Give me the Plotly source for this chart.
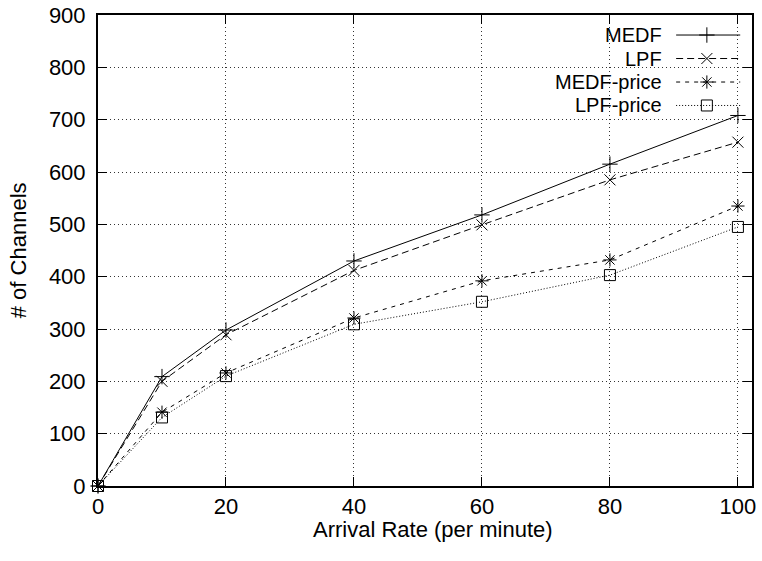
import plotly.graph_objects as go

# Arrival rate (per minute) and channel counts for each scheduling policy
arrival_rate = [0, 10, 20, 40, 60, 80, 100]
medf = [0, 209, 298, 430, 518, 615, 708]
lpf = [0, 200, 289, 412, 499, 585, 657]
medf_price = [0, 141, 216, 321, 392, 432, 535]
lpf_price = [0, 131, 210, 309, 352, 403, 495]

x_ticks = [0, 20, 40, 60, 80, 100]
y_ticks = list(range(0, 1000, 100))

FONT = "Liberation Sans, Arial, Helvetica, sans-serif"
FS = 22
KEY_FS = 20
MS = 11

series = [
    ("MEDF", medf, "solid", "cross-thin"),
    ("LPF", lpf, "7px,4px", "x-thin"),
    ("MEDF-price", medf_price, "4px,5px", "asterisk-open"),
    ("LPF-price", lpf_price, "1px,2px", "square-open"),
]

fig = go.Figure()
for name, ys, dash, sym in series:
    fig.add_trace(go.Scatter(
        x=arrival_rate, y=ys, name=name, mode="lines+markers",
        line=dict(color="black", width=1, dash=dash),
        marker=dict(symbol=sym, size=MS, color="black",
                    line=dict(color="black", width=1)),
        showlegend=False, cliponaxis=False,
    ))

# Key drawn in the upper-right corner: label, sample line, sample marker
key_rows = [0.9575, 0.9076, 0.8577, 0.8079]
line_x0, line_x1, mark_x, text_x = 0.884, 0.982, 0.931, 0.864
for (name, _, dash, sym), ky in zip(series, key_rows):
    fig.add_shape(type="line", xref="paper", yref="paper",
                  x0=line_x0, x1=line_x1, y0=ky, y1=ky,
                  line=dict(color="black", width=1, dash=dash))
    fig.add_trace(go.Scatter(
        x=[mark_x], y=[ky], xaxis="x2", yaxis="y2", mode="markers",
        marker=dict(symbol=sym, size=MS, color="black",
                    line=dict(color="black", width=1)),
        showlegend=False, hoverinfo="skip",
    ))
    fig.add_annotation(x=text_x, y=ky, xref="paper", yref="paper",
                       text=name, showarrow=False, xanchor="right",
                       yanchor="middle", borderpad=0,
                       font=dict(family=FONT, size=KEY_FS, color="black"))

# Axis titles
fig.add_annotation(x=0.512, y=-0.093, xref="paper", yref="paper",
                   text="Arrival Rate (per minute)", showarrow=False,
                   xanchor="center", yanchor="middle",
                   font=dict(family=FONT, size=FS, color="black"))
fig.add_annotation(x=-0.122, y=0.501, xref="paper", yref="paper",
                   text="# of Channels", showarrow=False, textangle=-90,
                   xanchor="center", yanchor="middle",
                   font=dict(family=FONT, size=FS, color="black"))

axis_common = dict(
    showline=True, linecolor="black", linewidth=2, mirror="ticks",
    ticks="inside", ticklen=9, tickwidth=1, tickcolor="black",
    showgrid=True, gridcolor="#333333", gridwidth=1, griddash="1px,3px",
    zeroline=False, automargin=False,
    tickfont=dict(family=FONT, size=FS, color="black"),
)

fig.update_layout(
    width=762, height=561,
    margin=dict(l=98, r=10, t=15, b=75),
    paper_bgcolor="white", plot_bgcolor="white",
    font=dict(family=FONT, size=FS, color="black"),
    xaxis=dict(range=[0, 102.2], tickvals=x_ticks, **axis_common),
    yaxis=dict(range=[0, 900], tickvals=y_ticks, **axis_common,
               ticklabelstandoff=6),
    xaxis2=dict(range=[0, 1], overlaying="x", visible=False, fixedrange=True),
    yaxis2=dict(range=[0, 1], overlaying="y", visible=False, fixedrange=True),
)

fig.write_html("out.html")
